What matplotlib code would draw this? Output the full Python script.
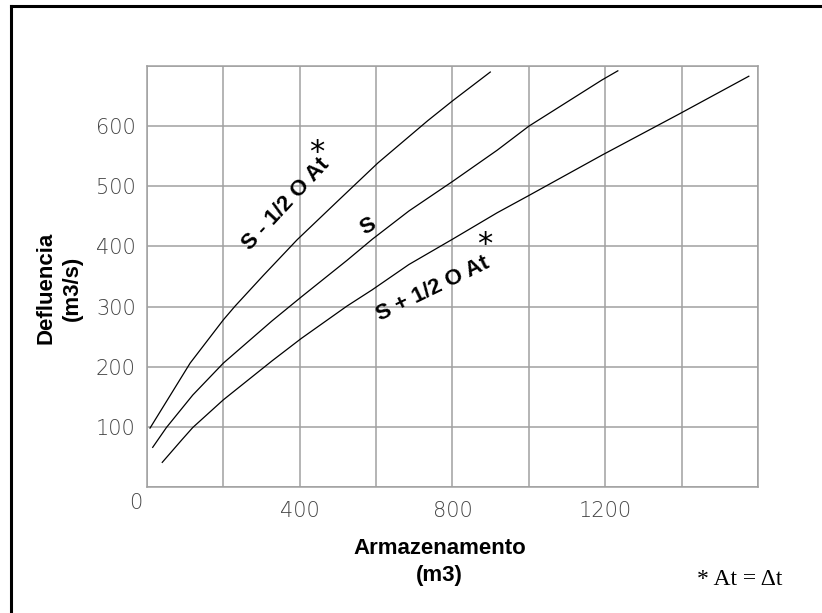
import numpy as np
import matplotlib.pyplot as plt

# curva S - 1/2 O At
x_menos = [8, 113, 200, 231, 305, 393, 502, 605, 735, 800, 899]
y_menos = [98, 206, 278, 301, 352, 411, 477, 539, 609, 642, 690]

# curva S
x_s = [15, 51, 120, 200, 327, 404, 524, 590, 686, 800, 917, 1000, 1192, 1233]
y_s = [66, 99, 153, 206, 276, 316, 377, 412, 459, 508, 560, 600, 677, 692]

# curva S + 1/2 O At
x_mas = [40, 92, 120, 200, 328, 404, 524, 590, 686, 800, 917, 998, 1192, 1393, 1576]
y_mas = [41, 79, 99, 145, 210, 247, 301, 328, 370, 412, 456, 484, 552, 620, 683]

# ticks
ticks_x = [400, 800, 1200]
ticks_y = [100, 200, 300, 400, 500, 600]
grid_x = np.arange(0, 1601, 200)
grid_y = np.arange(0, 701, 100)

def main():
  #! parametros para grafico
  fig = plt.figure(figsize=(8.22, 6.13), dpi=100)
  ax = fig.add_axes([0.1788, 0.2055, 0.7433, 0.6868])

  color_grid = '#a0a0a0'
  fuente_ticks = dict(family='DejaVu Sans', fontweight='ultralight', fontsize=15, color='#444444')
  fuente_bold = dict(family=['Liberation Sans', 'DejaVu Sans'], fontweight='bold', fontsize=16)

  #* grilla
  ax.set_xlim(0, 1600)
  ax.set_ylim(0, 700)
  ax.set_xticks(grid_x, minor=True)
  ax.set_yticks(grid_y, minor=True)
  ax.set_xticks(ticks_x)
  ax.set_yticks(ticks_y)
  ax.grid(which='both', color=color_grid, lw=1.1)
  ax.set_axisbelow(True)
  for sp in ax.spines.values():
    sp.set_color(color_grid)
    sp.set_linewidth(1.1)

  ax.set_xticklabels([str(t) for t in ticks_x], **fuente_ticks)
  ax.set_yticklabels([str(t) for t in ticks_y], **fuente_ticks)
  ax.tick_params(axis='both', which='both', length=0)
  ax.tick_params(axis='x', pad=10)
  ax.tick_params(axis='y', pad=8)
  ax.text(-29, -27, '0', ha='center', va='center', clip_on=False, **fuente_ticks)

  #* curvas
  for xs, ys in [(x_menos, y_menos), (x_s, y_s), (x_mas, y_mas)]:
    ax.plot(xs, ys, color='black', lw=0.9)

  #* etiquetas de las curvas
  ax.text(364, 470, 'S - 1/2 O At', rotation=47, ha='center', va='center',
          rotation_mode='anchor', **fuente_bold)
  ax.text(445, 556, '*', ha='center', va='center', fontsize=22, family='DejaVu Sans')
  ax.text(580, 433, 'S', rotation=30, ha='center', va='center', **fuente_bold)
  ax.text(749, 329, 'S + 1/2 O At', rotation=26, ha='center', va='center',
          rotation_mode='anchor', **fuente_bold)
  ax.text(885, 404, '*', ha='center', va='center', fontsize=22, family='DejaVu Sans')

  #* titulos de ejes
  fig.text(0.0718, 0.530, 'Defluencia\n(m3/s)', rotation=90, ha='center', va='center',
           multialignment='center', linespacing=1.35, **fuente_bold)
  fig.text(0.535, 0.083, 'Armazenamento\n(m3)', ha='center', va='center',
           multialignment='center', linespacing=1.35, **fuente_bold)
  fig.text(0.900, 0.054, '* At = \u0394t', ha='center', va='center',
           family='Liberation Serif', fontsize=17)

  #! marco
  fig.add_artist(plt.Line2D([0.0134, 1.0], [0.9894, 0.9894], color='black', lw=2.2,
                            transform=fig.transFigure))
  fig.add_artist(plt.Line2D([0.0134, 0.0134], [0.0, 0.9894], color='black', lw=2.2,
                            transform=fig.transFigure))

  fig.savefig('out.png', dpi=100)

if __name__ == "__main__":
  main()
